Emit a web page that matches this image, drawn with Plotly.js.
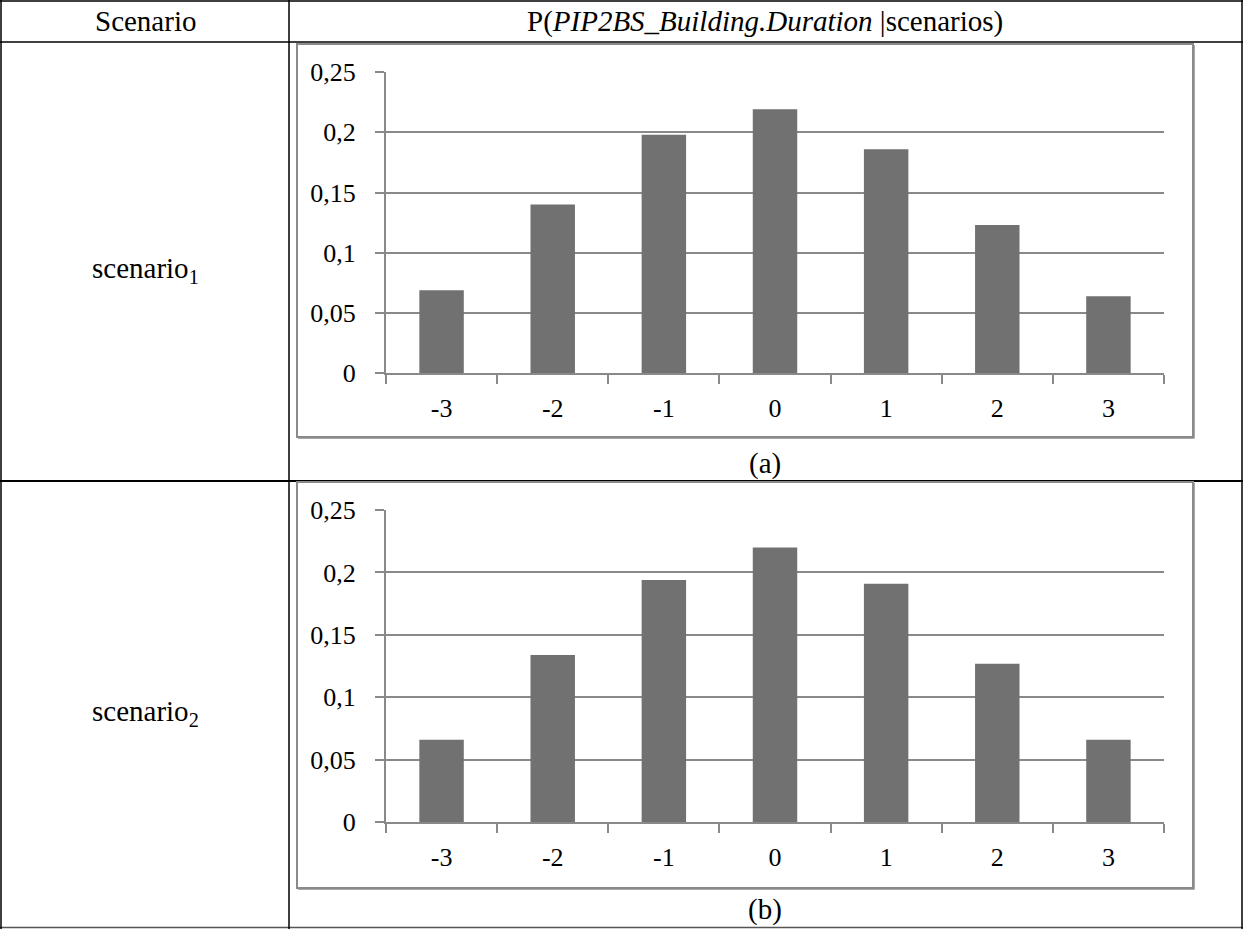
<!DOCTYPE html>
<html>
<head>
<meta charset="utf-8">
<script src="https://cdn.plot.ly/plotly-3.0.1.min.js"></script>
<style>html,body{margin:0;padding:0;background:#fff;}#chart{width:1243px;height:929px;}</style>
</head>
<body>
<div id="chart"></div>
<script>
// ---- data ----
var categories = ['-3', '-2', '-1', '0', '1', '2', '3'];
var scenario1 = [0.069, 0.140, 0.198, 0.219, 0.186, 0.123, 0.064];
var scenario2 = [0.066, 0.134, 0.194, 0.220, 0.191, 0.127, 0.066];
var yTickVals = [0, 0.05, 0.1, 0.15, 0.2, 0.25];
var yTickText = ['0', '0,05', '0,1', '0,15', '0,2', '0,25'];
var headerLeft = 'Scenario';
var headerRight = 'P(<i>PIP2BS_Building.Duration</i> |scenarios)';
var rowLabels = ['scenario<sub>1</sub>', 'scenario<sub>2</sub>'];
var captions = ['(a)', '(b)'];

// ---- geometry helpers ----
var W = 1243, H = 929;
function px(x) { return x / W; }
function py(y) { return 1 - y / H; }

var FONT = 'Liberation Serif';
var BAR = '#717171';
var GRID = '#898989';

var traces = [
  {type: 'bar', x: categories, y: scenario1, xaxis: 'x', yaxis: 'y',
   marker: {color: BAR}, hoverinfo: 'x+y', showlegend: false},
  {type: 'bar', x: categories, y: scenario2, xaxis: 'x2', yaxis: 'y2',
   marker: {color: BAR}, hoverinfo: 'x+y', showlegend: false}
];

function xAxis(anchor) {
  return {
    type: 'category', domain: [px(386), px(1164)], anchor: anchor,
    showgrid: false, zeroline: false, showline: true, linecolor: GRID, linewidth: 2,
    ticks: 'outside', tickson: 'boundaries', ticklen: 9, tickwidth: 2, tickcolor: GRID,
    tickfont: {family: FONT, size: 26, color: '#000'}, ticklabelstandoff: 10,
    fixedrange: true
  };
}
function yAxis(anchor, top, bottom) {
  return {
    domain: [py(bottom), py(top)], anchor: anchor, range: [0, 0.25],
    tickmode: 'array', tickvals: yTickVals, ticktext: yTickText,
    showgrid: true, gridcolor: GRID, gridwidth: 2, zeroline: false,
    showline: true, linecolor: GRID, linewidth: 2,
    ticks: 'outside', ticklen: 9, tickwidth: 2, tickcolor: GRID,
    tickfont: {family: FONT, size: 26, color: '#000'}, ticklabelstandoff: 14,
    fixedrange: true
  };
}

var shapes = [];
function hline(x0, x1, y, color, w) {
  shapes.push({type: 'line', xref: 'paper', yref: 'paper', x0: px(x0), x1: px(x1), y0: py(y), y1: py(y),
    line: {color: color, width: w}});
}
function vline(x, y0, y1, color, w) {
  shapes.push({type: 'line', xref: 'paper', yref: 'paper', x0: px(x), x1: px(x), y0: py(y0), y1: py(y1),
    line: {color: color, width: w}});
}
// table lines
hline(0, 1243, 1, '#000', 1.5);
hline(0, 1243, 42, '#000', 1.5);
hline(0, 1243, 481, '#000', 2);
hline(0, 1243, 927.5, '#555', 1.5);
vline(1, 0, 929, '#000', 1.5);
vline(289, 0, 929, '#000', 1.5);
vline(1242, 0, 929, '#000', 1.5);
// chart frames
[[44, 437], [482, 888]].forEach(function (f) {
  shapes.push({type: 'rect', xref: 'paper', yref: 'paper', x0: px(297), x1: px(1193), y0: py(f[1]), y1: py(f[0]),
    line: {color: '#8a8a8a', width: 2}, fillcolor: 'rgba(0,0,0,0)'});
  hline(298, 1194, f[1] + 1.5, '#a8a8a8', 1);
  vline(1194.5, f[0] + 1, f[1] + 1.5, '#a8a8a8', 1);
});

var annotations = [];
function label(x, y, text, size) {
  annotations.push({xref: 'paper', yref: 'paper', x: px(x), y: py(y), text: text, showarrow: false,
    xanchor: 'center', yanchor: 'middle', font: {family: FONT, size: size, color: '#000'}});
}
label(145, 21, headerLeft, 29);
label(765, 21, headerRight, 29);
label(145, 270, rowLabels[0], 29);
label(145, 713, rowLabels[1], 29);
label(765, 463, captions[0], 29);
label(765, 909, captions[1], 29);

var layout = {
  width: W, height: H, margin: {l: 0, r: 0, t: 0, b: 0},
  paper_bgcolor: '#fff', plot_bgcolor: 'rgba(0,0,0,0)',
  font: {family: FONT},
  bargap: 0.6, showlegend: false,
  xaxis: xAxis('y'), yaxis: yAxis('x', 72, 373.3),
  xaxis2: xAxis('y2'), yaxis2: yAxis('x2', 510, 822.3),
  shapes: shapes, annotations: annotations
};

Plotly.newPlot('chart', traces, layout, {displayModeBar: false, staticPlot: true});
</script>
</body>
</html>
